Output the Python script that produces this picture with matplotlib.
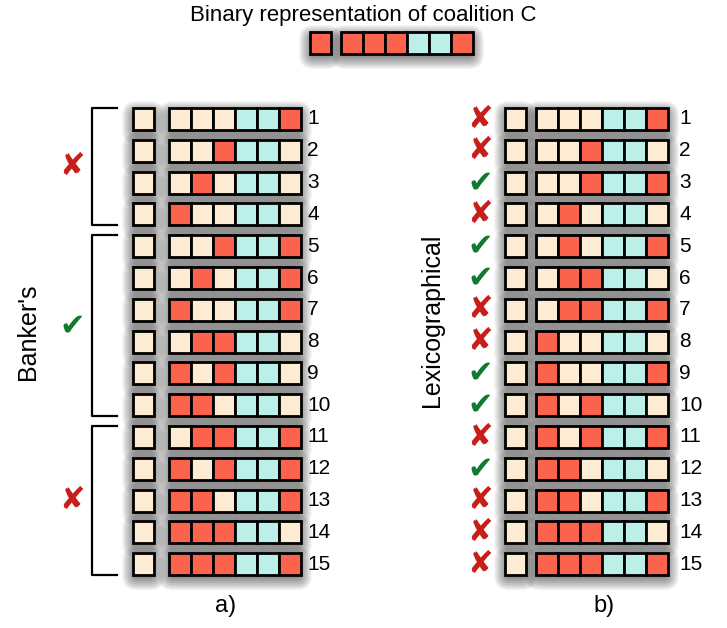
import matplotlib
matplotlib.use("Agg")
import matplotlib.pyplot as plt
from matplotlib.patches import Rectangle, FancyBboxPatch

COLORS = {"p": "#fdebd3", "r": "#fb634c", "c": "#bdefe9"}

# cell states: p = absent player, r = present player, c = fixed (cyan)
coalition_lead = "r"
coalition_cells = "rrrccr"

row_numbers = list(range(1, 16))
lead_cells = ["p"] * 15

bankers_rows = [
    "pppccr", "pprccp", "prpccp", "rppccp",
    "pprccr", "prpccr", "rppccr", "prrccp", "rprccp", "rrpccp",
    "prrccr", "rprccr", "rrpccr", "rrrccp", "rrrccr",
]
# (first row, last row, accepted)
bankers_groups = [(1, 4, False), (5, 10, True), (11, 15, False)]

lexico_rows = [
    "pppccr", "pprccp", "pprccr", "prpccp", "prpccr",
    "prrccp", "prrccr", "rppccp", "rppccr", "rprccp",
    "rprccr", "rrpccp", "rrpccr", "rrrccp", "rrrccr",
]
lexico_ok = [False, False, True, False, True, True, False, False,
             True, True, False, True, False, False, False]

CELL = 22
ROW0 = 108
STEP = 31.8
RED_MARK = "#c81e1a"
GREEN_MARK = "#117a2c"

fig = plt.figure(figsize=(7.27, 6.28), dpi=100)
ax = fig.add_axes([0, 0, 1, 1])
ax.set_xlim(0, 727)
ax.set_ylim(628, 0)
ax.axis("off")


def shadow(x, y, w, h):
    # soft drop shadow from stacked translucent boxes
    for k in range(14):
        pad = k * 1.0
        ax.add_patch(FancyBboxPatch((x - pad + 2, y - pad + 6), w + 2 * pad - 4, h + 2 * pad - 4,
                                    boxstyle="round,pad=0,rounding_size=%.1f" % (pad + 2),
                                    fc="black", ec="none", alpha=0.04, zorder=1))


def draw_row(lead, cells, x_lead, x_group, y):
    shadow(x_lead, y, CELL - 1, CELL)
    shadow(x_group, y, CELL * len(cells), CELL)
    ax.add_patch(Rectangle((x_lead, y), CELL - 1, CELL, fc=COLORS[lead], ec="black", lw=2, zorder=3))
    for j, c in enumerate(cells):
        ax.add_patch(Rectangle((x_group + j * CELL, y), CELL, CELL, fc=COLORS[c], ec="black", lw=2, zorder=3))


def mark(x, y, ok):
    ax.text(x, y, "\u2714" if ok else "\u2718", fontsize=22, ha="center", va="center",
            color=GREEN_MARK if ok else RED_MARK, family="DejaVu Sans", zorder=4)


# title and coalition C
ax.text(363, 15, "Binary representation of coalition C", fontsize=16, ha="center", va="center",
        family="Liberation Sans")
draw_row(coalition_lead, coalition_cells, 310, 341, 32)

# panel a) banker's ordering
for i, cells in enumerate(bankers_rows):
    y = ROW0 + i * STEP
    draw_row(lead_cells[i], cells, 133, 169, y)
    ax.text(307, y + CELL / 2, str(row_numbers[i]), fontsize=15, ha="left", va="center",
            family="Liberation Sans")

for first, last, ok in bankers_groups:
    top = ROW0 + (first - 1) * STEP
    bot = ROW0 + (last - 1) * STEP + CELL
    ax.plot([117, 92, 92, 117], [top, top, bot, bot], color="black", lw=1.6, zorder=3)
    mark(72, (top + bot) / 2, ok)

ax.text(28, 332, "Banker's", fontsize=18, rotation=90, ha="center", va="center", family="Liberation Sans")
ax.text(226, 606, "a)", fontsize=17, ha="center", va="center", family="Liberation Sans")

# panel b) lexicographical ordering
for i, cells in enumerate(lexico_rows):
    y = ROW0 + i * STEP
    draw_row(lead_cells[i], cells, 505, 536, y)
    ax.text(679, y + CELL / 2, str(row_numbers[i]), fontsize=15, ha="left", va="center",
            family="Liberation Sans")
    mark(480, y + CELL / 2, lexico_ok[i])

ax.text(432, 320, "Lexicographical", fontsize=18, rotation=90, ha="center", va="center",
        family="Liberation Sans")
ax.text(604, 606, "b)", fontsize=17, ha="center", va="center", family="Liberation Sans")

fig.savefig("out.png", dpi=100)
